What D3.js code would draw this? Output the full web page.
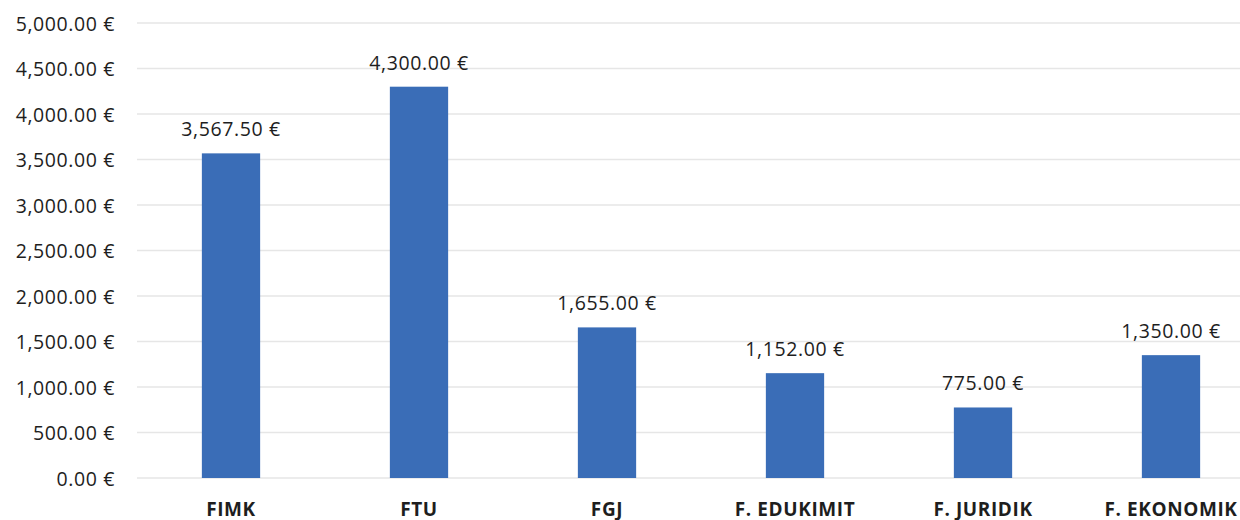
<!DOCTYPE html>
<html>
<head>
<meta charset="utf-8">
<script src="https://cdnjs.cloudflare.com/ajax/libs/d3/7.8.5/d3.min.js"></script>
<style>
	body { margin: 0; background: #fff; }
	svg { display: block; }
	text { font-family: "Open Sans", "Liberation Sans", sans-serif; fill: #1e1e1e; }
</style>
</head>
<body>
<svg id="plot" width="1240" height="520"></svg>
<script>
	var categories = ["FIMK", "FTU", "FGJ", "F. EDUKIMIT", "F. JURIDIK", "F. EKONOMIK"];
	var amounts = [3567.50, 4300.00, 1655.00, 1152.00, 775.00, 1350.00];
	var yTicks = [0, 500, 1000, 1500, 2000, 2500, 3000, 3500, 4000, 4500, 5000];

	var svg = d3.select("#plot");

	var x = d3.scaleBand()
		.domain(categories)
		.range([137, 1265])
		.paddingInner(0.69)
		.paddingOuter(0.345);

	var y = d3.scaleLinear()
		.domain([0, 5000])
		.range([478, 23]);

	var money = function(v){ return d3.format(",.2f")(v) + " \u20ac"; };

	// gridlines
	svg.append("g").selectAll("line").data(yTicks).enter()
		.append("line")
		.attr("x1", 137)
		.attr("x2", 1240)
		.attr("y1", function(d){ return y(d); })
		.attr("y2", function(d){ return y(d); })
		.style("stroke", "#e6e6e6")
		.style("stroke-width", 1.5);

	// y axis labels
	var yAxis = d3.axisLeft(y).tickValues(yTicks).tickFormat(money).tickSize(0).tickPadding(0);
	svg.append("g")
		.attr("transform", "translate(115,1)")
		.call(yAxis)
		.call(function(g){ g.select(".domain").remove(); })
		.selectAll("text")
		.style("font-size", "19.5px")
		.style("letter-spacing", "0.6px")
		.style("font-family", "'Open Sans', sans-serif")
		.attr("fill", "#1e1e1e");

	// bars
	svg.append("g").selectAll("rect").data(amounts).enter()
		.append("rect")
		.attr("x", function(d, i){ return x(categories[i]); })
		.attr("width", x.bandwidth())
		.attr("y", function(d){ return y(d); })
		.attr("height", function(d){ return y(0) - y(d); })
		.attr("fill", "#3a6db7");

	// value labels
	svg.append("g").selectAll("text").data(amounts).enter()
		.append("text")
		.attr("x", function(d, i){ return x(categories[i]) + x.bandwidth() / 2; })
		.attr("y", function(d){ return y(d) - 17; })
		.attr("text-anchor", "middle")
		.style("font-size", "19.5px")
		.style("letter-spacing", "0.6px")
		.text(money);

	// category labels
	var xAxis = d3.axisBottom(x).tickSize(0).tickPadding(0);
	svg.append("g")
		.attr("transform", "translate(0,502)")
		.call(xAxis)
		.call(function(g){ g.select(".domain").remove(); })
		.selectAll("text")
		.style("font-size", "19px")
		.style("letter-spacing", "0.6px")
		.style("font-weight", "bold")
		.style("font-family", "'Open Sans', sans-serif")
		.attr("fill", "#1e1e1e");
</script>
</body>
</html>
